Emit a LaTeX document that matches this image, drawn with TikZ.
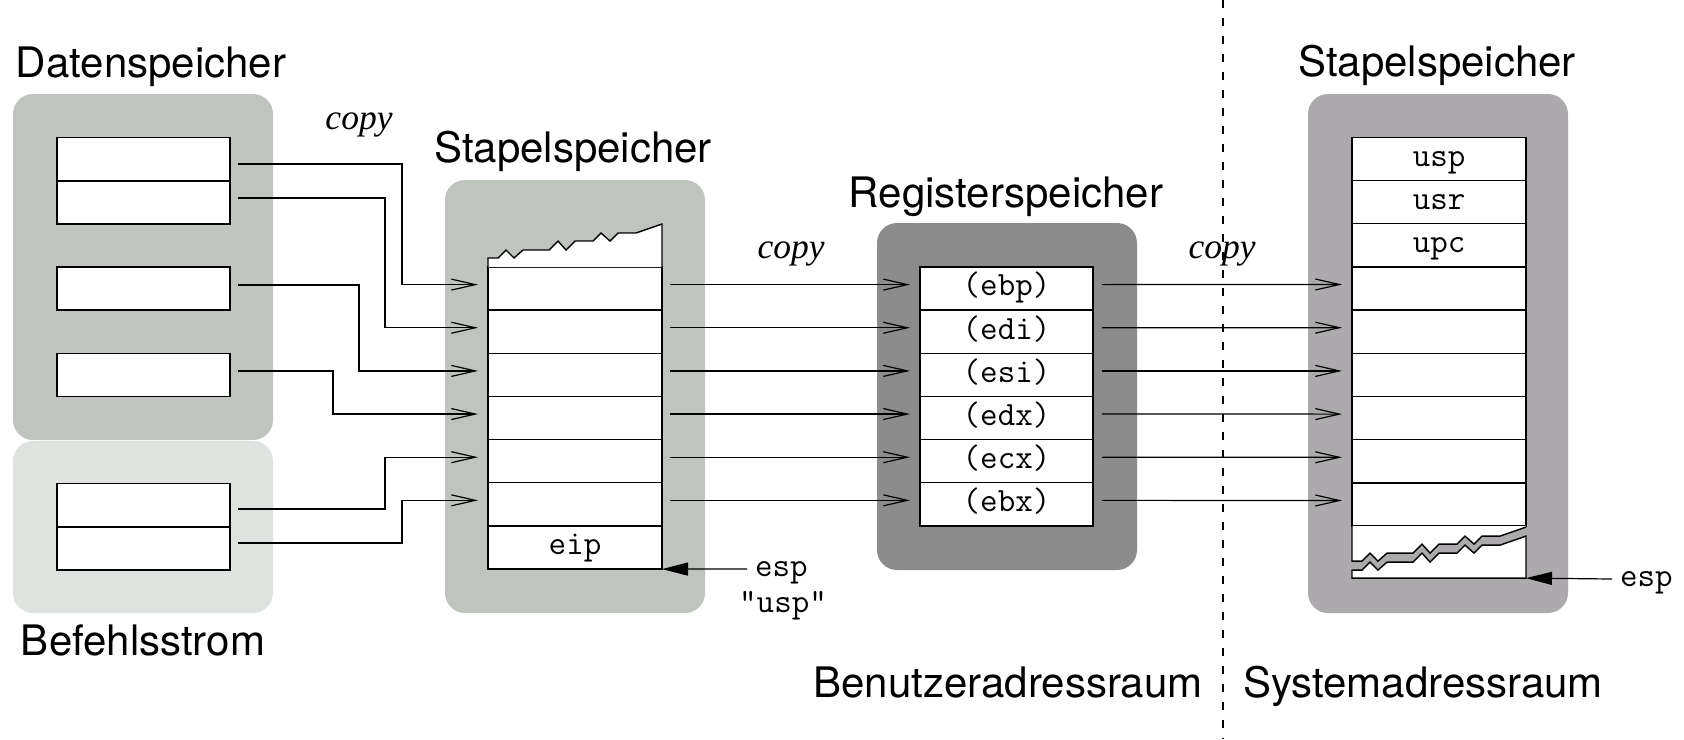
\documentclass[tikz,border=0pt]{standalone}
\usepackage{fontspec}
\newfontfamily\titlefont{TeX Gyre Heros}
\newfontfamily\cpyfont{Liberation Serif}
\usetikzlibrary{arrows.meta}

\definecolor{datagray}{RGB}{191,196,190}
\definecolor{cmdgray}{RGB}{223,227,224}
\definecolor{reggray}{RGB}{140,140,140}
\definecolor{sysgray}{RGB}{173,170,173}

\begin{document}
\begin{tikzpicture}[x=1pt,y=-1pt,
  panel/.style={rounded corners=20pt, inner sep=0pt, outer sep=0pt, minimum width=260pt},
  cell/.style={draw, fill=white, line width=1.4pt, minimum width=173pt,
    minimum height=43.2pt, inner sep=0pt, outer sep=0pt,
    font=\ttfamily\fontsize{34}{34}\selectfont, text height=14.5pt, text depth=0pt},
  title/.style={font=\titlefont\fontsize{42}{42}\selectfont, inner sep=0pt, anchor=base},
  cpy/.style={font=\cpyfont\itshape\fontsize{35.5}{35.5}\selectfont, inner sep=0pt, anchor=base},
  reglbl/.style={font=\ttfamily\fontsize{34}{34}\selectfont, inner sep=0pt,
    text height=14.5pt, text depth=0pt},
  flow/.style={line width=1.2pt, -{Straight Barb[length=24pt,width=11pt]}},
  ptr/.style={line width=1.2pt, -{Triangle[length=26pt,width=13pt]}},
  zig/.style={insert path={-- ++(10,0) -- ++(8,-8) -- ++(8,8) -- ++(9,-8) -- ++(26,0)
    -- ++(9,-9) -- ++(8,9) -- ++(9,-9) -- ++(18,0) -- ++(8,-8) -- ++(9,8)
    -- ++(8,-8) -- ++(18,0) -- ++(26,-9)}},
  edge/.style={line width=1.4pt, line join=miter},
]
\useasboundingbox (0,0) rectangle (1684,739);

% address space divider
\coordinate (divtop) at (1223,0);
\coordinate (divbot) at (1223,739);
\draw[line width=1.3pt, dash pattern=on 8pt off 10pt] (divtop) -- (divbot);

% panels
\node[panel, fill=datagray, minimum height=346pt] (datapanel) at (143,267) {};
\node[panel, fill=cmdgray, minimum height=172pt] (cmdpanel) at (143,527) {};
\node[panel, fill=datagray, minimum height=433pt] (stackpanel) at (575,396.5) {};
\node[panel, fill=reggray, minimum height=347pt] (regpanel) at (1007,396.5) {};
\node[panel, fill=sysgray, minimum height=519pt] (syspanel) at (1438,353.5) {};

% data memory and instruction stream
\node[cell] (d1) at (143.5,159) {};
\node[cell] (d2) at (143.5,202.5) {};
\node[cell] (d3) at (143.5,288.5) {};
\node[cell] (d4) at (143.5,375) {};
\node[cell] (b1) at (143.5,505) {};
\node[cell] (b2) at (143.5,548.5) {};

% user stack
\node[cell, minimum width=174pt] (s1r1) at (575,288.6) {};
\node[cell, minimum width=174pt] (s1r2) at (575,331.75) {};
\node[cell, minimum width=174pt] (s1r3) at (575,374.9) {};
\node[cell, minimum width=174pt] (s1r4) at (575,418.05) {};
\node[cell, minimum width=174pt] (s1r5) at (575,461.2) {};
\node[cell, minimum width=174pt] (s1r6) at (575,504.35) {};
\node[cell, minimum width=174pt] (s1r7) at (575,547.5) {eip};
\draw[edge, fill=white] (s1r1.north west) -- ++(0,-9) [zig] -- (s1r1.north east);

% registers
\node[cell] (rr1) at (1006.5,288.6) {(ebp)};
\node[cell] (rr2) at (1006.5,331.75) {(edi)};
\node[cell] (rr3) at (1006.5,374.9) {(esi)};
\node[cell] (rr4) at (1006.5,418.05) {(edx)};
\node[cell] (rr5) at (1006.5,461.2) {(ecx)};
\node[cell] (rr6) at (1006.5,504.35) {(ebx)};

% system stack
\node[cell, minimum width=174pt] (s2r1) at (1439,158.9) {usp};
\node[cell, minimum width=174pt] (s2r2) at (1439,202.1) {usr};
\node[cell, minimum width=174pt] (s2r3) at (1439,245.3) {upc};
\node[cell, minimum width=174pt] (s2r4) at (1439,288.5) {};
\node[cell, minimum width=174pt] (s2r5) at (1439,331.7) {};
\node[cell, minimum width=174pt] (s2r6) at (1439,374.9) {};
\node[cell, minimum width=174pt] (s2r7) at (1439,418.1) {};
\node[cell, minimum width=174pt] (s2r8) at (1439,461.3) {};
\node[cell, minimum width=174pt] (s2r9) at (1439,504.5) {};
\node[fill=white, inner sep=0pt, outer sep=0pt, minimum width=174pt, minimum height=52pt,
  anchor=north] (s2end) at (s2r9.south) {};
\fill[sysgray] ([yshift=-35pt]s2end.north west) [zig] -- (s2end.south east) -- (s2end.south west) -- cycle;
\draw[edge, fill=white] ([yshift=-44pt]s2end.north west) [zig] -- (s2end.south east) -- (s2end.south west) -- cycle;
\draw[edge] (s2end.north west) -- ++(0,35) [zig];

% copy: memory -> user stack
\draw[flow] ([xshift=8pt,yshift=-5pt]d1.east) -- ++(164,0) |- ([xshift=-10pt,yshift=4pt]s1r1.west);
\draw[flow] ([xshift=8pt,yshift=4.5pt]d2.east) -- ++(147,0) |- ([xshift=-10pt,yshift=4pt]s1r2.west);
\draw[flow] ([xshift=8pt,yshift=3.5pt]d3.east) -- ++(121,0) |- ([xshift=-10pt,yshift=4pt]s1r3.west);
\draw[flow] ([xshift=8pt,yshift=4pt]d4.east) -- ++(95,0) |- ([xshift=-10pt,yshift=4pt]s1r4.west);
\draw[flow] ([xshift=8pt,yshift=-4pt]b1.east) -- ++(147,0) |- ([xshift=-10pt,yshift=4pt]s1r5.west);
\draw[flow] ([xshift=8pt,yshift=5.5pt]b2.east) -- ++(164,0) |- ([xshift=-10pt,yshift=4pt]s1r6.west);

% copy: user stack -> registers -> system stack
\foreach \k [evaluate=\k as \t using int(\k+3)] in {1,...,6} {
  \draw[flow] ([xshift=8pt,yshift=4pt]s1r\k.east) -- ([xshift=-10pt,yshift=4pt]rr\k.west);
  \draw[flow] ([xshift=9pt,yshift=4pt]rr\k.east) -- ([xshift=-10pt,yshift=4pt]s2r\t.west);
}

% stack pointers
\node[reglbl, anchor=west] (esp1) at (755,569) {esp};
\node[reglbl] (usp1) at (783,605) {"usp"};
\draw[ptr] ([xshift=-8pt]esp1.west) -- (s1r7.south east);
\node[reglbl, anchor=west] (esp2) at (1620,579) {esp};
\draw[ptr] ([xshift=-8pt]esp2.west) -- (s2end.south east);

% titles
\node[title] (tdata) at (151,77) {Datenspeicher};
\node[title] (tcmd) at (143,655) {Befehlsstrom};
\node[title] (tstack) at (573,162) {Stapelspeicher};
\node[title] (treg) at (1006,207) {Registerspeicher};
\node[title] (tsys) at (1437,76) {Stapelspeicher};
\node[title] (tuser) at (1008,697) {Benutzeradressraum};
\node[title] (tkern) at (1423,697) {Systemadressraum};

\node[cpy] (c1) at (359,129) {copy};
\node[cpy] (c2) at (791,258) {copy};
\node[cpy] (c3) at (1222,258) {copy};
\end{tikzpicture}
\end{document}
